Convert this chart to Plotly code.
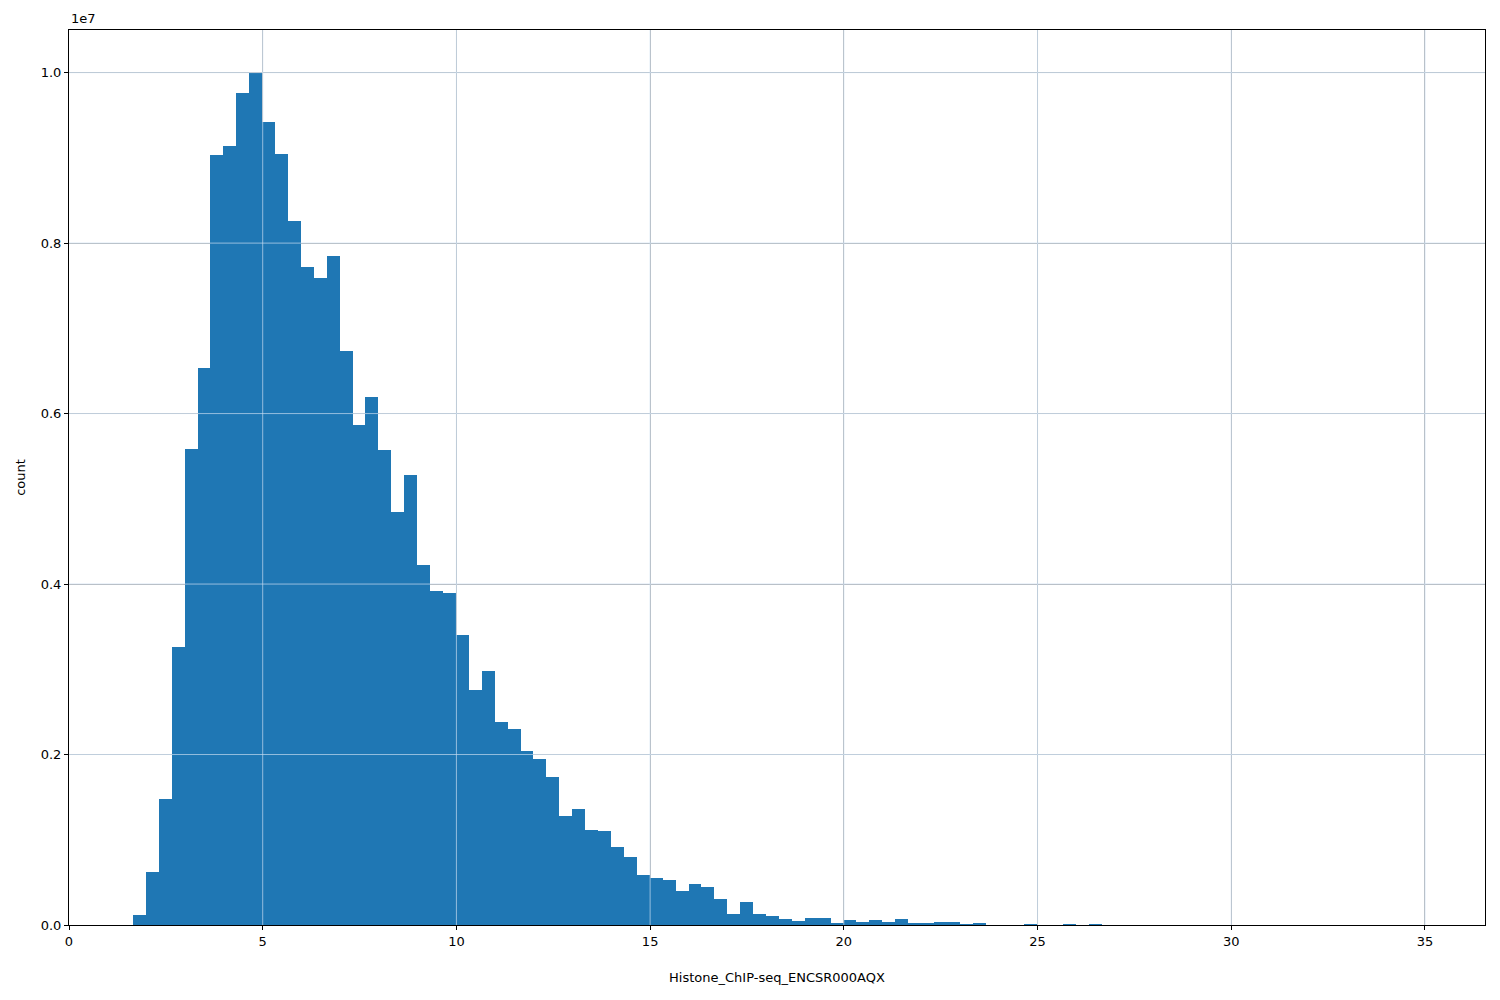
import plotly.graph_objects as go

bin_start = 1.65
bin_width = 0.3335
counts_1e7 = [0.012,0.062,0.148,0.326,0.558,0.654,0.903,0.914,0.976,1.000,
              0.942,0.904,0.826,0.772,0.759,0.785,0.673,0.587,0.619,0.557,
              0.484,0.528,0.422,0.392,0.389,0.340,0.276,0.298,0.238,0.230,
              0.204,0.195,0.174,0.128,0.136,0.112,0.110,0.092,0.080,0.059,
              0.055,0.053,0.040,0.048,0.045,0.030,0.013,0.027,0.013,0.010,
              0.007,0.005,0.008,0.008,0.002,0.006,0.004,0.006,0.003,0.007,
              0.002,0.002,0.003,0.003,0.001,0.002,0.0,0.0,0.0,0.0003,
              0.0,0.0,0.0002,0.0,0.0003] + [0.0]*25
counts = [c*1e7 for c in counts_1e7]
centers = [bin_start + bin_width*(i+0.5) for i in range(len(counts))]
xticks = [0,5,10,15,20,25,30,35]
yticks = [0, 0.2e7, 0.4e7, 0.6e7, 0.8e7, 1.0e7]
ytext = ["0.0","0.2","0.4","0.6","0.8","1.0"]

fig = go.Figure(go.Bar(x=centers, y=counts, width=bin_width, marker=dict(color="#1f77b4", line_width=0)))
ax = dict(showline=True, mirror=True, linecolor="black", linewidth=1, showgrid=True,
          gridcolor="#b0b0b0", gridwidth=1, ticks="outside", ticklen=4, tickcolor="black",
          zeroline=False, tickfont=dict(family="DejaVu Sans", size=13, color="black"))
grid_over = [dict(type="line", xref="x", yref="paper", x0=v, x1=v, y0=0, y1=1,
                  line=dict(color="rgba(200,220,240,0.7)", width=1), layer="above") for v in xticks[1:]]
grid_over += [dict(type="line", xref="paper", yref="y", x0=0, x1=1, y0=v, y1=v,
                   line=dict(color="rgba(200,220,240,0.7)", width=1), layer="above") for v in yticks[1:]]
fig.update_layout(
    width=1500, height=1000, plot_bgcolor="white", paper_bgcolor="white",
    margin=dict(l=59, r=23, t=22, b=83), bargap=0, showlegend=False,
    xaxis=dict(ax, range=[0, 36.55], tickvals=xticks,
               title=dict(text="Histone_ChIP-seq_ENCSR000AQX", font=dict(family="DejaVu Sans", size=13, color="black"), standoff=25)),
    yaxis=dict(ax, range=[0, 1.05e7], tickvals=yticks, ticktext=ytext,
               title=dict(text="count", font=dict(family="DejaVu Sans", size=13, color="black"), standoff=12)),
    shapes=grid_over,
    annotations=[dict(text="1e7", x=0, y=1, xref="paper", yref="paper", xanchor="left", yanchor="bottom",
                      showarrow=False, font=dict(family="DejaVu Sans", size=13, color="black"), yshift=2)],
)
fig.write_html("out.html")
